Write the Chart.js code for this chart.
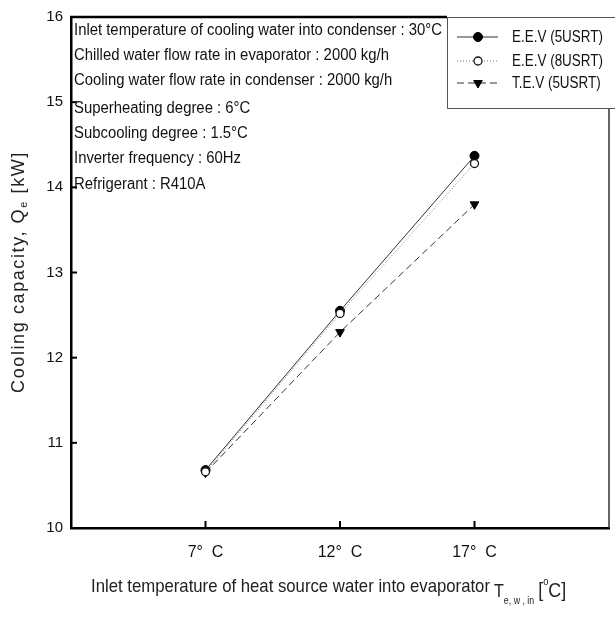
<!DOCTYPE html>
<html>
<head>
<meta charset="utf-8">
<script src="https://cdn.jsdelivr.net/npm/chart.js@4.4.0/dist/chart.umd.min.js"></script>
<style>
  html, body { margin: 0; padding: 0; background: #fff; }
</style>
</head>
<body>
<canvas id="chartCoolingCapacity" width="615" height="617"></canvas>
<script>
// data
const inletTemps = [7, 12, 17];
const inletTempLabels = ["7°  C", "12°  C", "17°  C"];
const eev5Capacity = [10.68, 12.55, 14.37];
const eev8Capacity = [10.66, 12.52, 14.28];
const tev5Capacity = [10.65, 12.30, 13.80];
const seriesNames = ["E.E.V (5USRT)", "E.E.V (8USRT)", "T.E.V (5USRT)"];
const capacityTicks = [10, 11, 12, 13, 14, 15, 16];
const conditionNotes = [
  "Inlet temperature of cooling water into condenser : 30°C",
  "Chilled water flow rate in evaporator : 2000 kg/h",
  "Cooling water flow rate in condenser : 2000 kg/h",
  "Superheating degree : 6°C",
  "Subcooling degree : 1.5°C",
  "Inverter frequency : 60Hz",
  "Refrigerant : R410A",
];

const SANS = '"Liberation Sans", Arial, sans-serif';

const toPoints = (vals) => vals.map((v, i) => ({ x: inletTemps[i], y: v }));

// text squeezed horizontally, to look like a narrow face
function fillNarrow(ctx, text, x, y, sx) {
  ctx.save();
  ctx.translate(x, y);
  ctx.scale(sx, 1);
  ctx.fillText(text, 0, 0);
  ctx.restore();
  return ctx.measureText(text).width * sx;
}

// draws the frame, inward ticks, notes, legend and axis titles
const decorPlugin = {
  id: "decor",
  afterDraw(chart) {
    const ctx = chart.ctx;
    const area = chart.chartArea;
    const xs = chart.scales.x;
    const ys = chart.scales.y;
    ctx.save();

    // inward ticks
    ctx.strokeStyle = "#000";
    ctx.lineWidth = 2;
    inletTemps.forEach((t) => {
      const px = xs.getPixelForValue(t);
      ctx.beginPath();
      ctx.moveTo(px, area.bottom);
      ctx.lineTo(px, area.bottom - 7);
      ctx.stroke();
    });
    capacityTicks.forEach((v) => {
      const py = ys.getPixelForValue(v);
      ctx.beginPath();
      ctx.moveTo(area.left, py);
      ctx.lineTo(area.left + 6, py);
      ctx.stroke();
    });

    const lgLeft = 447, lgTop = area.top, lgBottom = 108;

    // top frame line up to the legend
    ctx.lineWidth = 2.5;
    ctx.beginPath();
    ctx.moveTo(area.left - 1, area.top);
    ctx.lineTo(lgLeft, area.top);
    ctx.stroke();

    // right frame line below the legend
    ctx.lineWidth = 1.5;
    ctx.strokeStyle = "#333";
    ctx.beginPath();
    ctx.moveTo(area.right, lgBottom);
    ctx.lineTo(area.right, area.bottom);
    ctx.stroke();

    // legend
    ctx.lineWidth = 1;
    ctx.strokeStyle = "#555";
    ctx.strokeRect(lgLeft + 0.5, lgTop + 0.5, 620 - lgLeft, lgBottom - lgTop);
    ctx.font = "16px " + SANS;
    const lgScale = 91 / ctx.measureText(seriesNames[0]).width;
    const rowsY = [37, 61, 83];
    chart.data.datasets.forEach((ds, i) => {
      const y = rowsY[i];
      ctx.save();
      ctx.strokeStyle = ds.borderColor;
      ctx.lineWidth = 1;
      ctx.setLineDash(ds.borderDash || []);
      ctx.beginPath();
      ctx.moveTo(457, y);
      ctx.lineTo(498, y);
      ctx.stroke();
      ctx.setLineDash([]);
      ctx.fillStyle = ds.pointBackgroundColor;
      ctx.strokeStyle = ds.pointBorderColor;
      ctx.lineWidth = ds.pointBorderWidth;
      Chart.helpers.drawPoint(ctx, {
        pointStyle: ds.pointStyle,
        radius: ds.pointRadius,
        rotation: ds.pointRotation || 0,
        borderWidth: ds.pointBorderWidth,
      }, 478, y);
      ctx.restore();
      ctx.fillStyle = "#111";
      ctx.font = "16px " + SANS;
      ctx.textBaseline = "middle";
      ctx.textAlign = "left";
      fillNarrow(ctx, ds.label, 512, y + 1, lgScale);
    });

    // condition notes
    ctx.fillStyle = "#111";
    ctx.font = "16px " + SANS;
    ctx.textBaseline = "middle";
    ctx.textAlign = "left";
    const notesScale = 368 / ctx.measureText(conditionNotes[0]).width;
    const notesY = [31, 56, 81, 109, 134, 159, 185];
    conditionNotes.forEach((line, i) => {
      fillNarrow(ctx, line, 74, notesY[i], notesScale);
    });

    // y axis title, rotated
    ctx.save();
    ctx.translate(19, 272);
    ctx.rotate(-Math.PI / 2);
    ctx.textBaseline = "middle";
    ctx.textAlign = "left";
    ctx.fillStyle = "#222";
    ctx.letterSpacing = "1.6px";
    const partA = "Cooling capacity, Q";
    const partB = "e";
    const partC = " [kW]";
    ctx.font = "18px " + SANS;
    const wA = ctx.measureText(partA).width;
    const wC = ctx.measureText(partC).width;
    ctx.font = "11px " + SANS;
    const wB = ctx.measureText(partB).width;
    let sx = -(wA + wB + wC) / 2;
    ctx.font = "18px " + SANS;
    ctx.fillText(partA, sx, 0);
    sx += wA;
    ctx.font = "11px " + SANS;
    ctx.fillText(partB, sx, 5);
    sx += wB;
    ctx.font = "18px " + SANS;
    ctx.fillText(partC, sx, 0);
    ctx.restore();

    // x axis title
    ctx.fillStyle = "#222";
    ctx.textBaseline = "alphabetic";
    ctx.textAlign = "left";
    const mainTitle = "Inlet temperature of heat source water into evaporator";
    ctx.font = "19px " + SANS;
    const tScale = 399 / ctx.measureText(mainTitle).width;
    let tx = 91 + fillNarrow(ctx, mainTitle, 91, 592, tScale) + 4;
    ctx.font = "19px " + SANS;
    tx += fillNarrow(ctx, "T", tx, 597, 0.85);
    ctx.font = "11px " + SANS;
    tx += fillNarrow(ctx, "e, w , in", tx, 604, 0.8) + 4;
    ctx.font = "21px " + SANS;
    tx += fillNarrow(ctx, "[", tx, 597, 0.85);
    ctx.font = "11px " + SANS;
    tx += fillNarrow(ctx, "o", tx, 585, 0.85);
    ctx.font = "21px " + SANS;
    fillNarrow(ctx, "C]", tx, 597, 0.85);

    ctx.restore();
  },
};

const ctx = document.getElementById("chartCoolingCapacity").getContext("2d");
const chart = new Chart(ctx, {
  type: "line",
  data: {
    datasets: [
      {
        label: seriesNames[0],
        data: toPoints(eev5Capacity),
        borderColor: "#333",
        borderWidth: 1,
        pointStyle: "circle",
        pointRadius: 4.5,
        pointBackgroundColor: "#000",
        pointBorderColor: "#000",
        pointBorderWidth: 1,
        order: 1,
      },
      {
        label: seriesNames[1],
        data: toPoints(eev8Capacity),
        borderColor: "#777",
        borderWidth: 1,
        borderDash: [1, 2],
        pointStyle: "circle",
        pointRadius: 4,
        pointBackgroundColor: "#fff",
        pointBorderColor: "#111",
        pointBorderWidth: 1.3,
        order: 0,
      },
      {
        label: seriesNames[2],
        data: toPoints(tev5Capacity),
        borderColor: "#333",
        borderWidth: 1,
        borderDash: [7, 4],
        pointStyle: "triangle",
        pointRotation: 180,
        pointRadius: 5,
        pointBackgroundColor: "#000",
        pointBorderColor: "#000",
        pointBorderWidth: 1,
        order: 2,
      },
    ],
  },
  options: {
    responsive: false,
    animation: false,
    layout: { padding: { top: 13, right: 2, left: 0, bottom: 0 } },
    plugins: {
      legend: { display: false },
      tooltip: { enabled: false },
    },
    scales: {
      x: {
        type: "linear",
        min: 2,
        max: 22,
        afterBuildTicks: (scale) => {
          scale.ticks = inletTemps.map((v) => ({ value: v }));
        },
        afterFit: (scale) => { scale.height = 89; },
        grid: { display: true, drawOnChartArea: false, drawTicks: false },
        border: { display: true, color: "#000", width: 2.5 },
        ticks: {
          padding: 15,
          color: "#111",
          font: { family: SANS, size: 16 },
          callback: (value) => inletTempLabels[inletTemps.indexOf(value)],
          maxRotation: 0,
          autoSkip: false,
        },
      },
      y: {
        min: 10,
        max: 16,
        afterBuildTicks: (scale) => {
          scale.ticks = capacityTicks.map((v) => ({ value: v }));
        },
        afterFit: (scale) => { scale.width = 71; },
        grid: { display: true, drawOnChartArea: false, drawTicks: false },
        border: { display: true, color: "#000", width: 2.5 },
        ticks: {
          padding: 8,
          color: "#111",
          font: { family: SANS, size: 15 },
        },
      },
    },
  },
  plugins: [decorPlugin],
});
</script>
</body>
</html>
